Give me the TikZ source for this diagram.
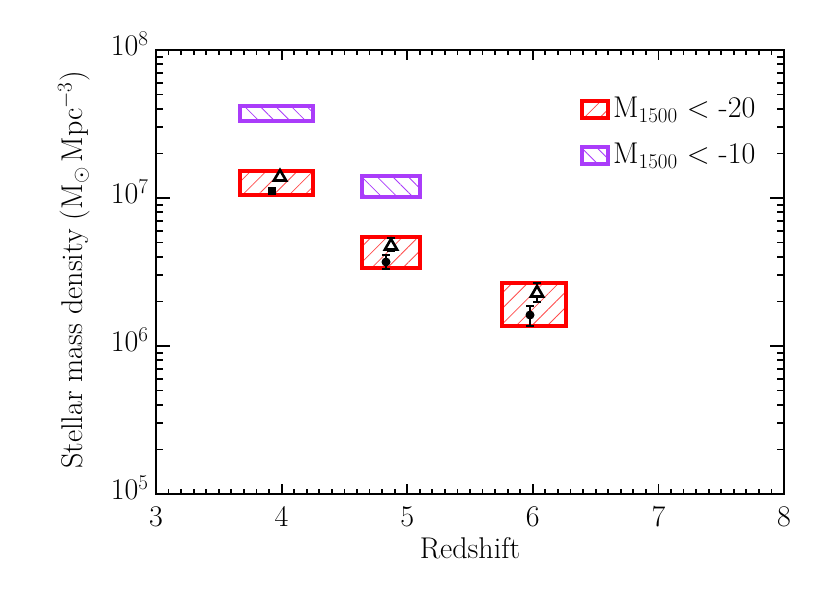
\RequirePackage{fix-cm}
\documentclass[tikz,border=0pt]{standalone}
\usepackage{fontspec}
\usetikzlibrary{patterns.meta,shapes.geometric}
\begin{document}
\begin{tikzpicture}[x=1pt,y=-1pt,
  lab/.style={font=\fontsize{30}{36}\selectfont},
  redbox/.style={draw=red,line width=3.2pt,pattern={Lines[angle=45,distance=11pt,line width=0.8pt]},pattern color=red!70},
  purbox/.style={line width=3.2pt,pattern={Lines[angle=-45,distance=11pt,line width=0.8pt]}},
  tri/.style={regular polygon,regular polygon sides=3,draw=black,fill=white,line width=2.6pt,inner sep=0pt,minimum size=14pt},
  dot/.style={circle,fill=black,inner sep=0pt,minimum size=9pt},
  sq/.style={rectangle,fill=black,inner sep=0pt,minimum size=8pt},
  eb/.style={line width=2.2pt}]
\definecolor{pur}{RGB}{170,60,250}
\tikzset{purbox/.append style={draw=pur,pattern color=pur}}
\useasboundingbox (0,0) rectangle (830,593);
% axes frame
\draw[line width=2.4pt] (156,50) rectangle (784,494);
% x ticks
\foreach \i in {0,...,50}{
  \pgfmathsetmacro\xx{156+12.56*\i}
  \pgfmathtruncatemacro\m{mod(\i,10)}
  \ifnum\m=0
    \draw[line width=1.8pt] (\xx,494) -- ++(0,-10) (\xx,50) -- ++(0,10);
  \else
    \draw[line width=1.8pt] (\xx,494) -- ++(0,-5) (\xx,50) -- ++(0,5);
  \fi}
\foreach \v [count=\k from 3] in {156,281.6,407.2,532.8,658.4,784}
  \node[lab,anchor=north] (xl\k) at (\v,503) {\k};
% y ticks
\foreach \d in {0,1,2}{
  \foreach \m in {2,...,9}{
    \pgfmathsetmacro\yy{494-148*(\d+log10(\m))}
    \draw[line width=1.8pt] (156,\yy) -- ++(7,0) (784,\yy) -- ++(-7,0);}}
\foreach \d in {1,2}{
  \pgfmathsetmacro\yy{494-148*\d}
  \draw[line width=1.8pt] (156,\yy) -- ++(14,0) (784,\yy) -- ++(-14,0);}
\node[lab,anchor=east] (y5) at (152,488) {10$^5$};
\node[lab,anchor=east] (y6) at (152,340) {10$^6$};
\node[lab,anchor=east] (y7) at (152,192) {10$^7$};
\node[lab,anchor=east] (y8) at (152,44) {10$^8$};
\node[lab] (xt) at (470,548) {Redshift};
\node[lab,rotate=90] (yt) at (74,270) {Stellar mass density (M$_\odot$\,Mpc$^{\mathrm{-3}}$)};
% boxes
\path[purbox] (240,106) rectangle (313,121);
\path[redbox] (240,171) rectangle (313,195);
\path[purbox] (362,176) rectangle (420,197);
\path[redbox] (362,237) rectangle (420,268);
\path[redbox] (502,283) rectangle (566,326);
% points z=4
\node[tri] (t4) at (280,177) {};
\node[sq] (s4) at (272,191) {};
% z=5
\draw[eb] (387,238) -- (395,238) (391,238) -- (391,251) (387,251) -- (395,251);
\node[tri] (t5) at (391,246) {};
\draw[eb] (382,255) -- (390,255) (386,255) -- (386,269) (382,269) -- (390,269);
\node[dot] (c5) at (386,262) {};
% z=6
\draw[eb] (533,283) -- (541,283) (537,283) -- (537,302) (533,302) -- (541,302);
\node[tri] (t6) at (537,293) {};
\draw[eb] (526,306) -- (534,306) (530,306) -- (530,326) (526,326) -- (534,326);
\node[dot] (c6) at (530,315) {};
% legend
\path[redbox] (582,101) rectangle (608,118);
\path[purbox] (582,147) rectangle (608,164);
\node[lab,anchor=west,inner sep=0pt] (l1) at (613,110) {M$_{\mathrm{1500}}$ < -20};
\node[lab,anchor=west,inner sep=0pt] (l2) at (613,156) {M$_{\mathrm{1500}}$ < -10};
\end{tikzpicture}
\end{document}
